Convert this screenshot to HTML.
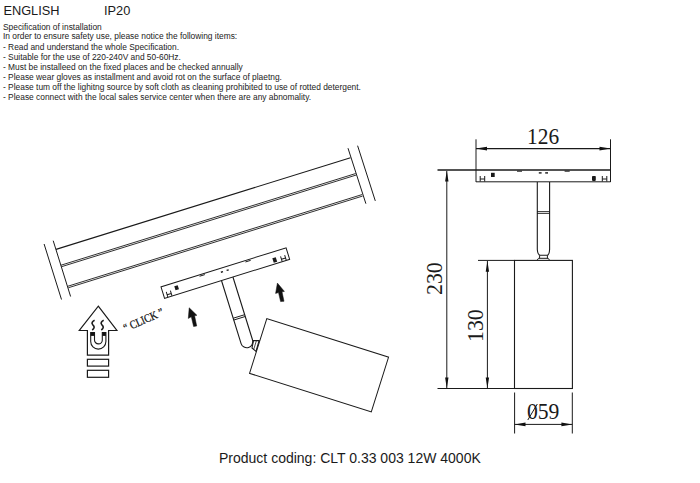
<!DOCTYPE html>
<html><head><meta charset="utf-8">
<style>
html,body{margin:0;padding:0;background:#fff;}
body{width:700px;height:483px;position:relative;overflow:hidden;font-family:"Liberation Sans",sans-serif;color:#1a1a1a;}
.t{position:absolute;white-space:nowrap;line-height:1;}
.s{font-size:8.4px;left:3px;color:#222;}
svg{position:absolute;left:0;top:0;}
.dim{font-family:"Liberation Serif",serif;font-size:22px;color:#1a1a1a;transform-origin:0 0;}
</style></head><body>
<div class="t" style="font-size:12.8px;left:3.4px;top:4.6px;">ENGLISH</div>
<div class="t" style="font-size:12.8px;left:104px;top:4.6px;">IP20</div>
<div class="t s" style="top:23px;">Specification of installation</div>
<div class="t s" style="top:32.4px;">In order to ensure safety use, please notice the following items:</div>
<div class="t s" style="top:43px;">- Read and understand the whole Specification.</div>
<div class="t s" style="top:53.1px;">- Suitable for the use of 220-240V and 50-60Hz.</div>
<div class="t s" style="top:63px;">- Must be installeed on the fixed places and be checked annually</div>
<div class="t s" style="top:72.8px;">- Please wear gloves as installment and avoid rot on the surface of plaetng.</div>
<div class="t s" style="top:83px;">- Please tum off the lighitng source by soft cloth as cleaning prohibited to use of rotted detergent.</div>
<div class="t s" style="top:93.3px;">- Please connect with the local sales service center when there are any abnomality.</div>

<div class="t" style="font-size:14px;left:219px;top:451px;">Product coding: CLT 0.33 003 12W 4000K</div>

<div class="t dim" style="left:526.5px;top:124.5px;font-size:23px;transform:scaleX(0.93);">126</div>
<div class="t dim" style="left:423px;top:295px;font-size:23.5px;transform:rotate(-90deg) scaleX(0.93);">230</div>
<div class="t dim" style="left:463.8px;top:341.5px;font-size:23.5px;transform:rotate(-90deg) scaleX(0.93);">130</div>
<div class="t dim" style="left:526.5px;top:399.5px;font-size:23.5px;transform:scaleX(0.92);">059</div>
<div class="t" style="font-family:'Liberation Serif',serif;font-size:11.4px;left:126.2px;top:323px;transform:rotate(-24deg) scaleX(0.85);transform-origin:0 10px;color:#111;-webkit-text-stroke:0.25px #111;">&ldquo;<span style="position:relative;top:-0.3px;"> CLICK</span> &rdquo;</div>

<svg width="700" height="483" viewBox="0 0 700 483" fill="none" stroke="#1a1a1a" stroke-width="1">
<!-- rail break lines -->
<line x1="44.1" y1="244" x2="61.5" y2="299.5"/>
<line x1="53.2" y1="240.7" x2="70.6" y2="296.5"/>
<line x1="348" y1="148.2" x2="365.9" y2="203.7"/>
<line x1="357.6" y1="145.7" x2="375.3" y2="200.9"/>
<!-- rail lines -->
<line x1="56" y1="249.4" x2="350.5" y2="157.7" stroke-width="1.1"/>
<line x1="60.86" y1="265.24" x2="355.66" y2="173.54" stroke-width="0.9"/>
<line x1="61.34" y1="266.76" x2="356.14" y2="175.06" stroke-width="0.9"/>
<line x1="67.86" y1="286.24" x2="362.16" y2="194.54" stroke-width="0.9"/>
<line x1="68.34" y1="287.76" x2="362.64" y2="196.06" stroke-width="0.9"/>
<!-- adapter rotated -->
<g transform="translate(161,286.8) rotate(-17.3)">
  <rect x="0" y="0" width="131" height="12"/>
  <path d="M59.6,12 V78 A6,6 0 0 0 71.6,78 V12" stroke-width="1.1"/>
  <line x1="59.6" y1="51.5" x2="71.6" y2="51.5" stroke-width="0.9"/>
  <line x1="59.6" y1="53.4" x2="71.6" y2="53.4" stroke-width="0.9"/>
  <path d="M3.5,11.8 V6.5 M3.5,9.5 H7.8 M7.8,6.5 V11.8" stroke-width="1"/>
  <rect x="12.8" y="3.5" width="3.6" height="4.2" fill="#1a1a1a" stroke="none"/>
  <path d="M127.5,11.8 V6.5 M127.5,9.5 H123.2 M123.2,6.5 V11.8" stroke-width="1"/>
  <rect x="114.8" y="5.8" width="3.6" height="4.8" fill="#1a1a1a" stroke="none"/>
  <line x1="40" y1="1.4" x2="45.5" y2="1.4" stroke-width="0.9"/>
  <line x1="88" y1="1.4" x2="93.5" y2="1.4" stroke-width="0.9"/>
  <rect x="61.5" y="3.2" width="2.2" height="1.4" fill="#1a1a1a" stroke="none"/>
  <rect x="67.5" y="3.2" width="2.2" height="1.4" fill="#1a1a1a" stroke="none"/>
</g>
<!-- connector -->
<path d="M253.5,340.6 L259.1,340.6 L256,351.4 L252,348 Z" stroke-width="1.1"/>
<line x1="256.3" y1="341" x2="253.7" y2="349.5" stroke-width="0.8"/>
<!-- body rotated -->
<g transform="translate(266.8,318.7) rotate(17.54)">
  <rect x="0" y="0" width="127.7" height="57.3"/>
</g>
<!-- black arrows -->
<path d="M189.2,307.8 L196.9,315.3 L194.6,315.8 L196.7,326 L193.6,326.5 L191.3,316.8 L188.3,318.4 Z" fill="#111" stroke="#111" stroke-width="0.5"/>
<path d="M277.4,283.1 L284.4,291.4 L282,291.8 L284,301.3 L280.6,301.6 L278.5,292.6 L275.6,293.4 Z" fill="#111" stroke="#111" stroke-width="0.5"/>

<!-- click icon -->
<path d="M98.3,306.2 L116.9,330.5 L108.6,330.5 L108.6,355.2 L87.4,355.2 L87.4,330.5 L79.3,330.5 Z" stroke-width="1.2"/>
<rect x="87.4" y="359.3" width="21.2" height="6.8" stroke-width="1.2"/>
<rect x="87.4" y="370.3" width="21.2" height="7" stroke-width="1.2"/>
<path d="M90.7,332.5 V341.5 A7.6,7.6 0 0 0 105.9,341.5 V332.5 H102.3 V340 A3.9,3.9 0 0 1 94.5,340 V332.5 Z" stroke-width="1.1"/>
<rect x="90.7" y="332.5" width="3.8" height="3.4" fill="#111" stroke="none"/>
<rect x="102.3" y="332.5" width="3.6" height="3.4" fill="#111" stroke="none"/>
<path d="M94.6,320.3 C92.2,321.5 91.2,323.2 92.8,324.8 C94.6,326.5 94.8,328 92.2,330" stroke-width="1.6"/>
<path d="M103.7,320.3 C101.3,321.5 100.3,323.2 101.9,324.8 C103.7,326.5 103.9,328 101.3,330" stroke-width="1.6"/>

<!-- ===== dimension view ===== -->
<line x1="437.5" y1="170" x2="610.5" y2="170" stroke-width="1.4"/>
<line x1="476" y1="139.3" x2="476" y2="182" stroke-width="1"/>
<line x1="610.5" y1="139.3" x2="610.5" y2="182" stroke-width="1"/>
<line x1="476" y1="181.8" x2="610.5" y2="181.8" stroke-width="1"/>
<line x1="476" y1="148.6" x2="610.5" y2="148.6" stroke-width="1.3"/>
<path d="M476,148.6 L487,146.7 L487,150.5 Z M610.5,148.6 L599.5,146.7 L599.5,150.5 Z" fill="#111" stroke="none"/>
<!-- bar marks -->
<path d="M480.2,176 V181.5 M480.2,179 H484.7 M484.7,176 V181.5" stroke-width="1"/>
<rect x="491" y="172.8" width="3.7" height="4.2" fill="#1a1a1a" stroke="none"/>
<line x1="517" y1="171.2" x2="522" y2="171.2" stroke-width="1"/>
<rect x="538.8" y="172.2" width="2.8" height="1.4" fill="#1a1a1a" stroke="none"/>
<rect x="545.2" y="172.2" width="2.8" height="1.4" fill="#1a1a1a" stroke="none"/>
<line x1="564.6" y1="171.2" x2="569.7" y2="171.2" stroke-width="1"/>
<rect x="592" y="176" width="3.8" height="4.9" rx="0.8" fill="#1a1a1a" stroke="none"/>
<path d="M602.3,176 V181.5 M602.3,179 H606.8 M606.8,176 V181.5" stroke-width="1"/>
<!-- stem -->
<path d="M537.3,182 V249.5 Q537.7,254.5 540,255.3 H547.4 Q549.3,254.5 549.6,249.5 V182" stroke-width="1.1"/>
<line x1="537" y1="211.6" x2="549.7" y2="211.6" stroke-width="0.9"/>
<line x1="537" y1="213.4" x2="549.7" y2="213.4" stroke-width="0.9"/>
<path d="M539.6,255.3 V258.3 M547.4,255.3 V258.3" stroke-width="1"/>
<path d="M537,260.4 L538.5,258.3 H548.2 L549.7,260.4" stroke-width="1"/>
<!-- body -->
<rect x="514.5" y="260.4" width="57.9" height="128.1" stroke-width="1.1"/>
<line x1="478" y1="260.4" x2="514.6" y2="260.4" stroke-width="1"/>
<line x1="437.5" y1="388.5" x2="514.6" y2="388.5" stroke-width="1"/>
<!-- 230 -->
<line x1="446.8" y1="171" x2="446.8" y2="388" stroke-width="1"/>
<path d="M446.8,170.8 L445.1,181.5 L448.5,181.5 Z M446.8,388.3 L445.1,377.5 L448.5,377.5 Z" fill="#111" stroke="none"/>
<!-- 130 -->
<line x1="487.4" y1="261" x2="487.4" y2="388" stroke-width="1"/>
<path d="M487.4,261 L485.7,271.7 L489.1,271.7 Z M487.4,388.3 L485.7,377.5 L489.1,377.5 Z" fill="#111" stroke="none"/>
<!-- 59 -->
<line x1="514.6" y1="392.5" x2="514.6" y2="433.5" stroke-width="1"/>
<line x1="572.3" y1="392.5" x2="572.3" y2="433.5" stroke-width="1"/>
<line x1="514.6" y1="424.4" x2="572.3" y2="424.4" stroke-width="1"/>
<path d="M514.6,424.4 L525.5,422.6 L525.5,426.2 Z M572.3,424.4 L561.4,422.6 L561.4,426.2 Z" fill="#111" stroke="none"/>
<line x1="527.8" y1="420" x2="537.3" y2="404" stroke-width="1"/>
</svg>
</body></html>
